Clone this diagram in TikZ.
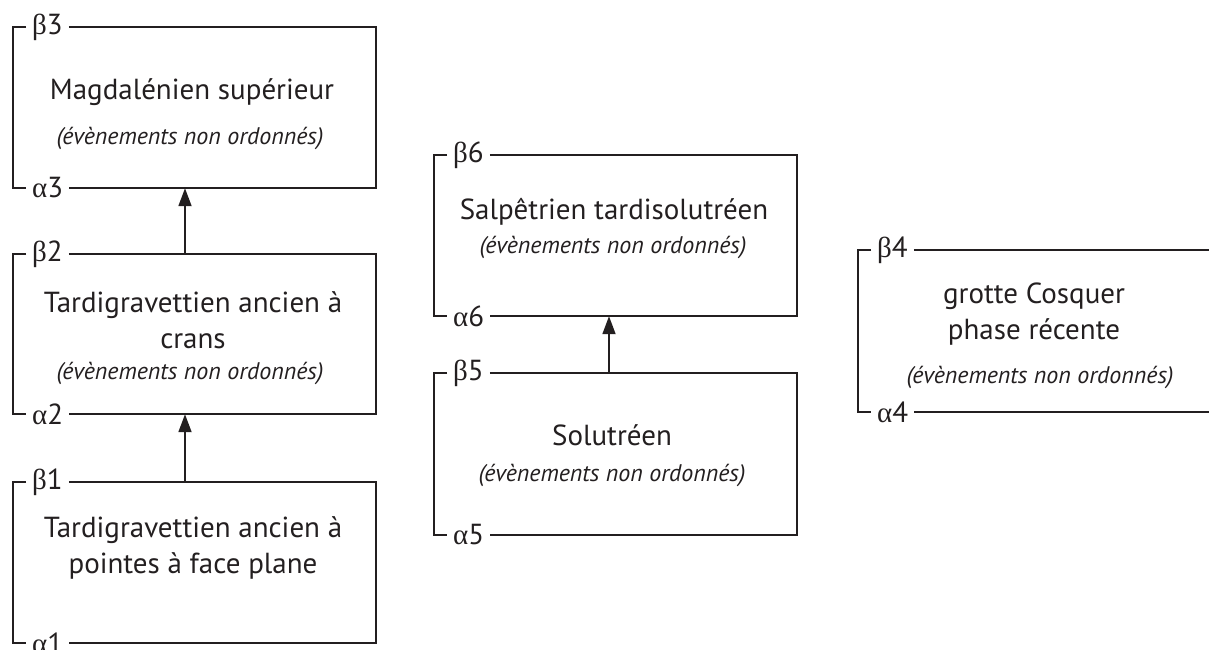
\documentclass[tikz,border=0pt]{standalone}
\usepackage{fontspec}
\setmainfont{PT Sans}
\newfontfamily\grk{Liberation Serif}
\usetikzlibrary{arrows.meta}
\definecolor{ink}{RGB}{35,31,32}
\newcommand\phasebox[5]{% #1 number, #2 L, #3 R, #4 T, #5 B
  \node[lab] (b#1) at (#2+13,#4) {{\grk β}#1};
  \node[lab] (a#1) at (#2+13,#5) {{\grk α}#1};
  \node[body, minimum width={#3-#2}, minimum height={#5-#4}] (box#1) at ({(#2+#3)/2},{(#4+#5)/2}) {};
  \draw[frame] (b#1.west) -- (#2,#4) -- (#2,#5) -- (a#1.west);
}
\begin{document}
\begin{tikzpicture}[x=1pt,y=-1pt,
  frame/.style={line width=1.8pt, draw=ink},
  lab/.style={anchor=west, inner xsep=6pt, inner ysep=0pt, font=\fontsize{29}{29}\selectfont, text=ink},
  body/.style={inner sep=0pt},
  main/.style={font=\fontsize{29}{36}\selectfont, text=ink, align=center},
  note/.style={font=\itshape\fontsize{24}{27}\selectfont, text=ink},
  arr/.style={line width=1.8pt, draw=ink, -{Triangle[length=18pt,width=13pt]}}]
\useasboundingbox (0,0) rectangle (1209,649);
% column 1
\phasebox{3}{13}{376}{27}{188}
\draw[frame] (b3.east) -- (376,27) -- (376,188) -- (a3.east);
\node[main] (t3) at (192,92) {Magdalénien supérieur};
\node[note] (n3) at (190,138) {(évènements non ordonnés)};
\phasebox{2}{13}{376}{254}{414}
\draw[frame] (b2.east) -- (376,254) -- (376,414) -- (a2.east);
\node[main] (t2) at (193,320) {Tardigravettien ancien à\\crans};
\node[note] (n2) at (190,373) {(évènements non ordonnés)};
\phasebox{1}{13}{376}{482}{643}
\draw[frame] (b1.east) -- (376,482) -- (376,643) -- (a1.east);
\node[main] (t1) at (193,548) {Tardigravettien ancien à\\pointes à face plane};
% column 2
\phasebox{6}{434}{797}{155}{316}
\draw[frame] (b6.east) -- (797,155) -- (797,316) -- (a6.east);
\node[main] (t6) at (614,212) {Salpêtrien tardisolutréen};
\node[note] (n6) at (613,247) {(évènements non ordonnés)};
\phasebox{5}{434}{797}{373}{535}
\draw[frame] (b5.east) -- (797,373) -- (797,535) -- (a5.east);
\node[main] (t5) at (612,435) {Solutréen};
\node[note] (n5) at (612,475) {(évènements non ordonnés)};
% column 3
\phasebox{4}{858}{1209}{250}{412}
\coordinate (e4t) at (1209,250);
\coordinate (e4b) at (1209,412);
\draw[frame] (b4.east) -- (e4t);
\draw[frame] (a4.east) -- (e4b);
\node[main] (t4) at (1034,314) {grotte Cosquer\\phase récente};
\node[note] (n4) at (1040,377) {(évènements non ordonnés)};
% arrows
\draw[arr] ([xshift=-9.5pt]box1.north) -- ([xshift=-9.5pt]box2.south);
\draw[arr] ([xshift=-9.5pt]box2.north) -- ([xshift=-9.5pt]box3.south);
\draw[arr] ([xshift=-6.5pt]box5.north) -- ([xshift=-6.5pt]box6.south);
\end{tikzpicture}
\end{document}
